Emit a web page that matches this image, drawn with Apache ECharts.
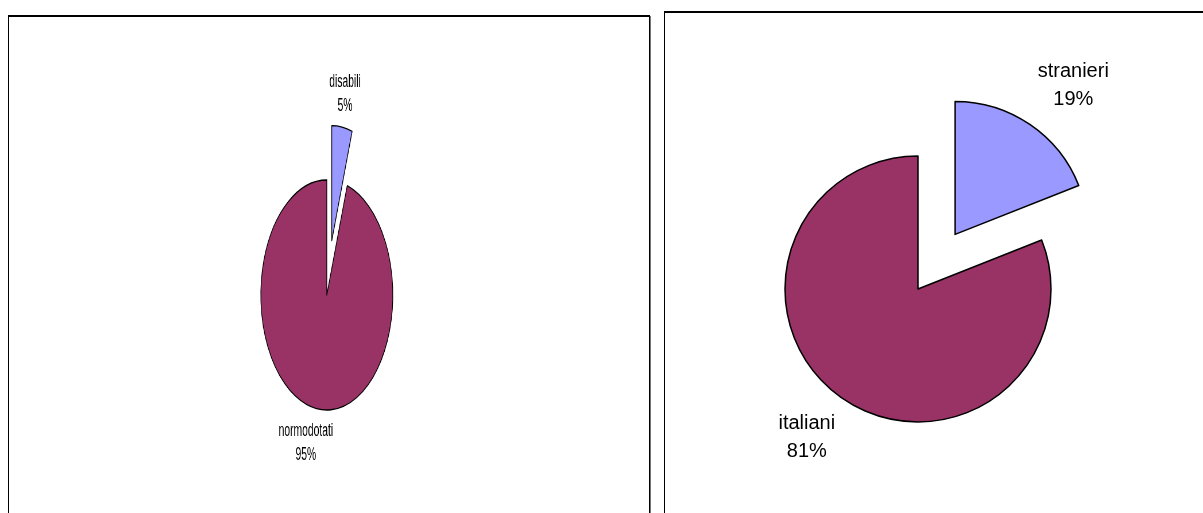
<!DOCTYPE html>
<html>
<head>
<meta charset="utf-8">
<title>disabili / stranieri</title>
<script src="https://cdn.jsdelivr.net/npm/echarts@6/dist/echarts.min.js"></script>
<style>
  body { margin: 0; width: 1203px; height: 513px; overflow: hidden; background: #fff; position: relative; }
  .frame { position: absolute; border: 1px solid #000; border-top-width: 2px; box-shadow: 1px 1px 0 #777; }
  #frameLeft { left: 8px; top: 15px; width: 640px; height: 520px; }
  #frameRight { left: 664px; top: 11px; width: 580px; height: 520px; }
  /* the left pie is squeezed horizontally like in the original */
  #left { position: absolute; left: 212px; top: 0; width: 400px; height: 513px; transform: scaleX(0.574); transform-origin: 0 0; }
  #right { position: absolute; left: 0; top: 0; width: 1203px; height: 513px; }
</style>
</head>
<body>
<div class="frame" id="frameLeft"></div>
<div class="frame" id="frameRight"></div>
<div id="left"></div>
<div id="right"></div>
<script>
  const leftNames = ['disabili', 'normodotati']
  const leftValues = [5, 95]
  const rightNames = ['stranieri', 'italiani']
  const rightValues = [19, 81]

  const lightColor = '#9999ff'
  const darkColor = '#993366'

  function pctLabel(p) {
    return p.name + '\n' + Math.round(p.percent) + '%'
  }

  // left chart
  const leftChart = echarts.init(document.getElementById('left'))
  leftChart.setOption({
    animation: false,
    series: [{
      type: 'pie',
      center: ['50%', 295],
      radius: 115,
      startAngle: 90,
      clockwise: true,
      selectedMode: 'single',
      selectedOffset: 55,
      avoidLabelOverlap: false,
      itemStyle: { borderColor: '#000', borderWidth: 1.3 },
      emphasis: { disabled: true },
      label: {
        position: 'outside',
        formatter: pctLabel,
        fontSize: 18,
        lineHeight: 24,
        color: '#000',
        fontFamily: 'Arial, "Liberation Sans", sans-serif',
        distanceToLabelLine: 0
      },
      labelLine: { show: false },
      labelLayout: { align: 'center', verticalAlign: 'middle' },
      data: [
        {
          name: leftNames[0], value: leftValues[0], selected: true,
          itemStyle: { color: lightColor },
          labelLine: { length: 33, length2: 0 }
        },
        {
          name: leftNames[1], value: leftValues[1],
          itemStyle: { color: darkColor },
          labelLine: { length: 35, length2: 13 }
        }
      ]
    }]
  })

  // right chart
  const rightChart = echarts.init(document.getElementById('right'))
  rightChart.setOption({
    animation: false,
    series: [{
      type: 'pie',
      center: [918, 289],
      radius: 133,
      startAngle: 90,
      clockwise: true,
      selectedMode: 'single',
      selectedOffset: 66,
      avoidLabelOverlap: false,
      itemStyle: { borderColor: '#000', borderWidth: 1.5 },
      emphasis: { disabled: true },
      label: {
        position: 'outside',
        formatter: pctLabel,
        fontSize: 20,
        lineHeight: 28,
        color: '#000',
        fontFamily: 'Arial, "Liberation Sans", sans-serif',
        distanceToLabelLine: 0
      },
      labelLine: { show: false },
      labelLayout: { align: 'center', verticalAlign: 'middle' },
      data: [
        {
          name: rightNames[0], value: rightValues[0], selected: true,
          itemStyle: { color: lightColor },
          labelLine: { length: 47, length2: 17 }
        },
        {
          name: rightNames[1], value: rightValues[1],
          itemStyle: { color: darkColor },
          labelLine: { length: 47, length2: 10 }
        }
      ]
    }]
  })
</script>
</body>
</html>
